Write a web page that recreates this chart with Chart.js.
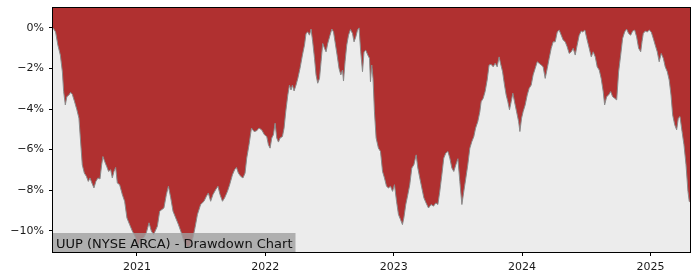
<!DOCTYPE html>
<html>
<head>
<meta charset="utf-8">
<script src="https://cdn.jsdelivr.net/npm/chart.js@4/dist/chart.umd.min.js"></script>
<style>
  html, body { margin: 0; padding: 0; background: #ffffff; }
  #wrap { width: 700px; height: 280px; }
</style>
</head>
<body>
<div id="wrap"><canvas id="c" width="700" height="280"></canvas></div>
<script>
// Time in decimal years
const dates = [
  2020.346, 2020.351, 2020.366, 2020.384, 2020.403, 2020.419, 2020.429, 2020.442, 2020.454, 2020.470,
  2020.483, 2020.496, 2020.514, 2020.532, 2020.548, 2020.559, 2020.574, 2020.590, 2020.606, 2020.621,
  2020.634, 2020.649, 2020.665, 2020.680, 2020.696, 2020.712, 2020.725, 2020.735, 2020.748, 2020.764,
  2020.779, 2020.795, 2020.808, 2020.821, 2020.834, 2020.847, 2020.865, 2020.886, 2020.904, 2020.922,
  2020.943, 2020.964, 2020.990, 2021.008, 2021.026, 2021.052, 2021.073, 2021.094, 2021.112, 2021.130,
  2021.159, 2021.177, 2021.210, 2021.229, 2021.245, 2021.263, 2021.281, 2021.302, 2021.323, 2021.341,
  2021.366, 2021.393, 2021.419, 2021.436, 2021.452, 2021.471, 2021.496, 2021.522, 2021.541, 2021.556,
  2021.574, 2021.592, 2021.613, 2021.631, 2021.647, 2021.666, 2021.683, 2021.705, 2021.722, 2021.744,
  2021.761, 2021.775, 2021.790, 2021.808, 2021.826, 2021.842, 2021.855, 2021.873, 2021.892, 2021.912,
  2021.931, 2021.951, 2021.972, 2021.993, 2022.011, 2022.024, 2022.037, 2022.050, 2022.063, 2022.076,
  2022.089, 2022.102, 2022.115, 2022.133, 2022.146, 2022.159, 2022.175, 2022.188, 2022.200, 2022.211,
  2022.224, 2022.239, 2022.253, 2022.270, 2022.289, 2022.305, 2022.317, 2022.330, 2022.344, 2022.356,
  2022.369, 2022.383, 2022.395, 2022.408, 2022.422, 2022.434, 2022.447, 2022.461, 2022.473, 2022.486,
  2022.504, 2022.518, 2022.531, 2022.543, 2022.559, 2022.574, 2022.588, 2022.601, 2022.609, 2022.621,
  2022.634, 2022.648, 2022.663, 2022.679, 2022.691, 2022.705, 2022.718, 2022.730, 2022.743, 2022.757,
  2022.769, 2022.782, 2022.798, 2022.811, 2022.819, 2022.829, 2022.839, 2022.850, 2022.863, 2022.881,
  2022.897, 2022.913, 2022.928, 2022.944, 2022.959, 2022.975, 2022.991, 2023.006, 2023.022, 2023.037,
  2023.053, 2023.068, 2023.079, 2023.094, 2023.110, 2023.125, 2023.141, 2023.157, 2023.175, 2023.188,
  2023.203, 2023.219, 2023.235, 2023.252, 2023.271, 2023.291, 2023.310, 2023.328, 2023.344, 2023.359,
  2023.375, 2023.390, 2023.406, 2023.422, 2023.437, 2023.453, 2023.468, 2023.484, 2023.500, 2023.515,
  2023.531, 2023.546, 2023.562, 2023.577, 2023.593, 2023.609, 2023.624, 2023.638, 2023.655, 2023.671,
  2023.681, 2023.697, 2023.712, 2023.728, 2023.743, 2023.759, 2023.775, 2023.790, 2023.806, 2023.821,
  2023.832, 2023.848, 2023.863, 2023.876, 2023.889, 2023.902, 2023.915, 2023.928, 2023.941, 2023.957,
  2023.973, 2023.983, 2023.996, 2024.008, 2024.024, 2024.040, 2024.055, 2024.071, 2024.086, 2024.102,
  2024.118, 2024.133, 2024.149, 2024.164, 2024.180, 2024.196, 2024.211, 2024.227, 2024.242, 2024.258,
  2024.274, 2024.289, 2024.305, 2024.320, 2024.336, 2024.351, 2024.367, 2024.383, 2024.398, 2024.414,
  2024.429, 2024.445, 2024.461, 2024.472, 2024.489, 2024.507, 2024.523, 2024.539, 2024.554, 2024.570,
  2024.585, 2024.601, 2024.616, 2024.632, 2024.643, 2024.659, 2024.674, 2024.690, 2024.705, 2024.721,
  2024.737, 2024.752, 2024.768, 2024.783, 2024.799, 2024.814, 2024.830, 2024.846, 2024.861, 2024.877,
  2024.892, 2024.908, 2024.924, 2024.934, 2024.944, 2024.959, 2024.975, 2024.991, 2025.006, 2025.022,
  2025.037, 2025.053, 2025.068, 2025.084, 2025.100, 2025.115, 2025.131, 2025.146, 2025.160, 2025.173,
  2025.189, 2025.204, 2025.217, 2025.230, 2025.246, 2025.261, 2025.277, 2025.292, 2025.302, 2025.308
];
// Drawdown in percent
const drawdown = [
  0.00, 0.00, -0.20, -0.85, -1.34, -2.16, -3.14, -3.80, -3.39, -3.31,
  -3.18, -3.27, -3.64, -4.04, -4.45, -5.43, -6.75, -7.16, -7.32, -7.57,
  -7.40, -7.65, -7.89, -7.57, -7.40, -7.45, -6.75, -6.34, -6.58, -6.83,
  -7.08, -6.99, -7.40, -7.08, -6.88, -7.65, -7.73, -8.22, -8.55, -9.37,
  -9.70, -10.02, -10.35, -10.84, -10.43, -10.35, -10.10, -9.61, -10.02, -10.19,
  -9.78, -9.04, -8.88, -8.22, -7.81, -8.38, -9.04, -9.37, -9.70, -10.02,
  -10.52, -10.84, -10.68, -10.35, -9.86, -9.20, -8.71, -8.55, -8.30, -8.14,
  -8.55, -8.22, -7.98, -7.81, -8.22, -8.55, -8.38, -8.06, -7.73, -7.24,
  -6.99, -6.88, -7.16, -7.32, -7.40, -7.16, -6.42, -5.76, -4.94, -5.11,
  -5.08, -4.94, -5.03, -5.27, -5.36, -5.76, -5.93, -5.43, -5.27, -4.70,
  -5.43, -5.63, -5.43, -5.36, -4.94, -4.13, -3.31, -2.82, -3.06, -2.82,
  -3.11, -2.82, -2.49, -2.00, -1.34, -0.85, -0.28, -0.20, -0.36, -0.06,
  -0.69, -1.50, -2.32, -2.73, -2.49, -1.67, -0.77, -1.01, -1.18, -0.77,
  -0.36, -0.06, -0.20, -0.69, -1.34, -2.00, -2.32, -2.08, -2.62, -1.67,
  -0.85, -0.36, -0.08, -0.28, -0.69, -0.44, -0.11, 0.00, -1.18, -2.16,
  -1.18, -1.10, -1.34, -1.50, -2.65, -1.83, -2.49, -4.13, -5.43, -5.93,
  -6.09, -7.08, -7.40, -7.81, -7.89, -7.81, -8.06, -7.73, -8.55, -9.20,
  -9.45, -9.70, -9.37, -8.71, -8.22, -7.73, -6.91, -6.75, -6.26, -6.91,
  -7.40, -7.89, -8.38, -8.63, -8.88, -8.71, -8.79, -8.63, -8.71, -8.06,
  -7.24, -6.42, -6.17, -6.09, -6.42, -6.91, -7.08, -6.75, -6.45, -7.57,
  -8.71, -8.06, -7.40, -6.75, -5.93, -5.60, -5.36, -4.94, -4.62, -4.13,
  -3.64, -3.47, -3.14, -2.57, -1.83, -1.80, -1.92, -1.75, -1.92, -1.43,
  -1.75, -2.16, -2.82, -3.31, -3.64, -4.04, -3.64, -3.22, -3.64, -4.13,
  -4.62, -5.11, -4.45, -4.13, -3.80, -3.31, -2.98, -2.82, -2.32, -2.00,
  -1.67, -1.75, -1.83, -1.92, -2.49, -2.00, -1.50, -1.01, -0.69, -0.69,
  -0.20, -0.11, -0.36, -0.60, -0.69, -0.93, -1.26, -1.18, -1.01, -1.34,
  -0.85, -0.36, -0.16, -0.20, -0.11, -0.60, -1.01, -1.43, -1.18, -1.43,
  -1.92, -2.08, -2.49, -3.14, -3.80, -3.39, -3.31, -3.14, -3.39, -3.47,
  -3.55, -2.16, -1.34, -0.52, -0.20, -0.06, -0.28, -0.36, -0.16, -0.11,
  -0.44, -1.01, -1.18, -0.69, -0.28, -0.16, -0.20, -0.11, -0.20, -0.52,
  -0.85, -1.18, -1.67, -1.26, -1.50, -1.92, -2.16, -2.57, -3.31, -4.29,
  -4.78, -5.03, -4.45, -4.37, -5.11, -5.76, -6.75, -8.06, -8.55, -8.60
];
const yearTicks = [2021, 2022, 2023, 2024, 2025];
const pctTicks = [-10, -8, -6, -4, -2, 0];
const titleText = 'UUP (NYSE ARCA) - Drawdown Chart';

const points = dates.map((d, i) => ({ x: d, y: drawdown[i] }));

const bgPlugin = {
  id: 'bg',
  beforeDatasetsDraw(chart) {
    const { ctx, chartArea: a } = chart;
    ctx.save();
    ctx.fillStyle = '#ececec';
    ctx.fillRect(a.left, a.top, a.right - a.left, a.bottom - a.top);
    ctx.restore();
  },
  afterDraw(chart) {
    const { ctx, chartArea: a } = chart;
    ctx.save();
    // frame
    ctx.strokeStyle = '#000';
    ctx.lineWidth = 1;
    ctx.strokeRect(Math.round(a.left) - 0.5, Math.round(a.top) - 0.5,
                   Math.round(a.right - a.left) + 1, Math.round(a.bottom - a.top) + 1);
    // label box
    ctx.font = '13px "DejaVu Sans"';
    const w = ctx.measureText(titleText).width;
    ctx.fillStyle = 'rgba(160,160,160,0.8)';
    ctx.fillRect(a.left, a.bottom - 19, w + 6, 19);
    ctx.fillStyle = '#111';
    ctx.textBaseline = 'alphabetic';
    ctx.fillText(titleText, a.left + 3, a.bottom - 4.5);
    ctx.restore();
  }
};

new Chart(document.getElementById('c'), {
  type: 'line',
  data: {
    datasets: [{
      data: points,
      borderColor: '#8a8a8a',
      borderWidth: 1,
      backgroundColor: '#b03030',
      fill: 'end',
      pointRadius: 0,
      tension: 0
    }]
  },
  options: {
    responsive: false,
    animation: false,
    devicePixelRatio: 1,
    layout: { padding: { top: 8, right: 10, left: 0, bottom: 0 } },
    plugins: { legend: { display: false }, tooltip: { enabled: false } },
    scales: {
      x: {
        type: 'linear',
        min: dates[0],
        max: dates[dates.length - 1],
        afterFit(s) { s.height = 28; s.paddingLeft = 0; s.paddingRight = 0; },
        afterBuildTicks(s) { s.ticks = yearTicks.map(v => ({ value: v })); },
        grid: { display: true, drawOnChartArea: false, drawTicks: true, tickLength: 4, color: '#000' },
        border: { display: false },
        ticks: {
          color: '#1a1a1a', padding: 5, maxRotation: 0,
          font: { family: '"DejaVu Sans"', size: 11 },
          callback: v => String(v)
        }
      },
      y: {
        min: -11.05,
        max: 0.98,
        afterFit(s) { s.width = 53; s.paddingTop = 0; s.paddingBottom = 0; },
        afterBuildTicks(s) { s.ticks = pctTicks.map(v => ({ value: v })); },
        grid: { display: true, drawOnChartArea: false, drawTicks: true, tickLength: 4, color: '#000' },
        border: { display: false },
        ticks: {
          color: '#1a1a1a', padding: 5,
          font: { family: '"DejaVu Sans"', size: 11 },
          callback: v => (v < 0 ? '\u2212' + Math.abs(v) : String(v)) + '%'
        }
      }
    }
  },
  plugins: [bgPlugin]
});
</script>
</body>
</html>
